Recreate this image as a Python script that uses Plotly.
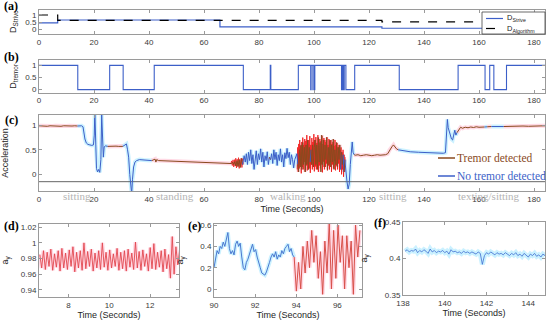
import numpy as np
import plotly.graph_objects as go

W, H = 550, 327

# ---------------- (a) ----------------
strive_t = [0, 6.8, 65.8, 124.7, 184]
strive_v = [0.45, 0.65, 0.17, 0.08, 0.08]
algo_t = [0, 6.8, 124.7, 184]
algo_v = [1.0, 0.63, 0.52, 0.52]

# ---------------- (b) ----------------
tremor_t = [0, 14.1, 25.7, 30.6, 41.9, 74.3, 84.1, 84.3, 94.3, 98.8, 98.95, 99.6, 99.7,
            100.2, 100.3, 110.0, 110.2, 110.4, 110.6, 110.8, 111.0, 111.6, 114.8, 131.0,
            152.4, 162.2, 163.9, 165.4, 170.0, 184]
tremor_v = [1, 0, 1, 0, 1, 0, 1, 0, 1, 0, 1, 0, 1,
            0, 1, 0, 1, 0, 1, 0, 1, 0, 1, 0,
            1, 0, 1, 0, 1, 1]

# ---------------- (c) ----------------
accel_t = [0, 1, 2, 3, 4, 5, 6, 7, 8, 9, 10, 11, 12, 13, 14,
           14.5, 15, 15.5, 16, 16.3, 16.7, 17.2, 17.8, 18.5, 19.2, 19.8, 20.1, 20.3, 20.6, 20.9,
           21.3, 21.7, 22.1, 22.5, 22.8, 23.1, 23.4, 23.7, 24.2, 25,
           26, 27, 28, 29, 30, 30.5,
           31.2, 31.8, 32.2, 32.6, 33.0, 33.4, 33.7, 34.0, 34.4, 34.9, 35.5, 36.5, 38, 39.5, 41,
           42.2, 42.5, 42.8, 43.5, 46, 50, 54, 58, 62, 66, 69,
           70, 70.4, 70.8, 71.2, 71.6, 72, 72.4, 72.8, 73.2, 73.6, 74.0,
           74.6, 75.0, 75.4, 75.8, 76.2, 76.6, 77.0, 77.4, 77.8, 78.2, 78.6, 79.0, 79.4, 79.8,
           80.2, 80.6, 81.0, 81.4, 81.8, 82.2, 82.6, 83.0, 83.4, 83.8, 84.2, 84.6, 85.0, 85.4,
           85.8, 86.2, 86.6, 87.0, 87.4, 87.8, 88.2, 88.6, 89.0, 89.4, 89.8, 90.2, 90.6, 91.0,
           91.4, 91.8, 92.2, 92.6, 93.0, 93.4, 93.8, 94.1,
           94.4, 94.7, 95.0, 95.3, 95.6, 95.9, 96.2, 96.5, 96.8, 97.1, 97.4, 97.7, 98.0, 98.3,
           98.6, 98.9, 99.2, 99.5, 99.8, 100.1, 100.4, 100.7, 101.0, 101.3, 101.6, 101.9,
           102.2, 102.5, 102.8, 103.1, 103.4, 103.7, 104.0, 104.3, 104.6, 104.9, 105.2, 105.5,
           105.8, 106.1, 106.4, 106.7, 107.0, 107.3, 107.6, 107.9, 108.2, 108.5, 108.8, 109.1,
           109.4, 109.7, 110.0, 110.3, 110.6, 110.9, 111.2,
           111.6, 112.0, 112.4, 112.8, 113.2, 113.6, 113.9, 114.2, 114.6,
           115, 116, 117, 118, 119, 120, 121, 122, 123, 124, 125, 126, 126.8, 127.5, 128.3,
           128.9, 129.4, 130, 130.6,
           131.5, 133, 135, 138, 141, 144, 147, 147.8, 148.2, 148.5, 148.8, 149.2, 149.6,
           150.0, 150.4, 150.8, 151.2, 151.6, 152.0,
           152.8, 153.3, 154, 155, 156, 157, 158, 159, 160, 161, 162, 163, 164.5, 166, 167,
           168, 169, 171, 172, 174, 176, 178, 180, 182, 184]
accel_a = [0.99, 0.985, 0.99, 0.98, 0.99, 0.985, 0.99, 0.985, 0.98, 0.99, 0.985, 0.99, 0.985, 0.99, 0.985,
           0.99, 0.985, 0.99, 0.97, 0.85, 0.72, 0.64, 0.61, 0.6, 0.59, 0.6, 0.8, 1.3, 0.6, 0.12,
           0.05, 0.1, 0.04, 0.3, 1.22, 0.7, 0.35, 0.56, 0.58, 0.57,
           0.575, 0.57, 0.575, 0.57, 0.58, 0.57,
           0.6, 0.62, 0.5, 0.35, 0.0, -0.35, -0.4, -0.1, 0.15, 0.25, 0.28, 0.3, 0.29, 0.28, 0.28,
           0.31, 0.25, 0.3, 0.28, 0.275, 0.27, 0.265, 0.255, 0.245, 0.235, 0.23,
           0.22, 0.25, 0.2, 0.26, 0.17, 0.28, 0.16, 0.3, 0.14, 0.32, 0.2,
           0.38, 0.25, 0.42, 0.2, 0.45, 0.28, 0.5, 0.22, 0.4, 0.1, 0.35, 0.48, 0.2, 0.42,
           0.3, 0.52, 0.25, 0.45, 0.15, 0.38, 0.28, 0.46, 0.2, 0.35, 0.3, 0.42, 0.22, 0.5,
           0.3, 0.45, 0.18, 0.4, 0.28, 0.52, 0.25, 0.4, 0.15, 0.44, 0.32, 0.53, 0.34, 0.45,
           0.2, 0.4, 0.3, 0.13, 0.3, 0.35, 0.42, 0.2,
           0.05, 0.5, 0.15, 0.6, 0.1, 0.65, 0.2, 0.55, 0.05, 0.6, 0.2, 0.7, 0.1, 0.55,
           0.25, 0.5, 0.2, 0.6, 0.15, 0.55, 0.7, 0.2, 0.6, 0.1, 0.75, 0.25,
           0.65, 0.05, 0.8, 0.2, 0.7, 0.15, 0.6, 0.3, 0.75, 0.1, 0.55, 0.2,
           0.7, 0.15, 0.6, 0.25, 0.72, 0.1, 0.5, 0.2, 0.65, 0.15, 0.55, 0.3,
           0.6, 0.1, 0.45, 0.2, 0.4, 0.05, 0.3,
           0.0, -0.15, -0.3, -0.2, 0.2, 0.6, 0.66, 0.45, 0.4,
           0.39, 0.4, 0.38, 0.39, 0.4, 0.39, 0.38, 0.39, 0.4, 0.39, 0.39, 0.4, 0.42, 0.5, 0.56,
           0.6, 0.55, 0.52, 0.5,
           0.49, 0.47, 0.46, 0.45, 0.44, 0.435, 0.43, 0.44, 0.8, 1.12, 0.95, 0.85, 0.78,
           0.72, 0.7, 0.85, 0.9, 0.8, 0.85,
           0.93, 0.96, 0.94, 0.96, 0.95, 0.965, 0.955, 0.97, 0.96, 0.97, 0.965, 0.97, 0.975, 0.97, 0.975,
           0.97, 0.975, 0.98, 0.975, 0.98, 0.985, 0.98, 0.985, 0.99, 0.99]

# raw (unfiltered) signal while walking with tremor
raw_a = [0.1, 0.55, 0.05, 0.62, 0.12, 0.7, 0.2, 0.58, 0.02, 0.66, 0.15, 0.75, 0.1, 0.6, 0.25, 0.72,
         0.05, 0.68, 0.18, 0.8, 0.08, 0.62, 0.22, 0.7, 0.12, 0.78, 0.03, 0.6, 0.2, 0.74, 0.1, 0.66,
         0.28, 0.82, 0.06, 0.7, 0.16, 0.76, 0.1, 0.64, 0.24, 0.8, 0.05, 0.58, 0.18, 0.72, 0.12, 0.68,
         0.2, 0.78, 0.04, 0.62, 0.26, 0.74, 0.1, 0.7, 0.15, 0.66, 0.22, 0.76, 0.08, 0.6, 0.18, 0.72,
         0.1, 0.68, 0.25, 0.7, 0.05, 0.62, 0.2, 0.66, 0.12, 0.58, 0.28, 0.7, 0.08, 0.6, 0.18, 0.64,
         0.1, 0.55, 0.22, 0.6, 0.05, 0.5, 0.15, 0.55, 0.0, 0.45, 0.1, 0.5, -0.05, 0.4, 0.05, 0.35]
raw_start, raw_end = 93.9, 111.3
raw2_a = [0.22, 0.27, 0.18, 0.29, 0.15, 0.3, 0.17, 0.33, 0.13, 0.31, 0.16, 0.34, 0.12, 0.3, 0.18, 0.33,
          0.14, 0.32, 0.2]
raw2_start, raw2_end = 69.8, 74.3
base_t = [0, 184]
base_a = [-0.15, -0.15]

activity_labels = ["sitting", "standing", "walking", "sitting", "texting/sitting"]
activity_x = [13.7, 49.5, 90.5, 128.6, 163.6]

# ---------------- (d) ----------------
d_a = [0.985, 0.968, 0.99, 0.966, 0.988, 0.97, 0.992, 0.965, 0.986, 0.969, 0.99, 0.964, 0.993,
       0.968, 0.987, 0.966, 0.991, 0.97, 0.995, 0.963, 0.988, 0.968, 0.99, 0.965, 1.0, 0.967,
       0.989, 0.97, 0.992, 0.964, 0.987, 0.968, 0.99, 0.966, 1.0, 0.969, 0.988, 0.965, 0.991,
       0.968, 0.986, 0.97, 0.993, 0.965, 0.988, 0.967, 0.99, 0.964, 0.992, 0.969, 0.987, 0.966,
       1.001, 0.968, 0.989, 0.965, 0.991, 0.97, 0.986, 0.964, 0.994, 0.967, 0.999, 0.966, 0.988,
       0.969, 0.99, 0.963, 0.992, 0.967, 0.985, 0.955, 1.008, 0.96, 0.995, 0.972, 0.99]
d_start, d_end = 6.6, 13.45

# ---------------- (e) ----------------
e_blue_a = [0.2, 0.28, 0.36, 0.33, 0.4, 0.38, 0.44, 0.4, 0.47, 0.53, 0.38, 0.33, 0.36, 0.32,
            0.42, 0.45, 0.4, 0.43, 0.3, 0.2, 0.18, 0.25, 0.28, 0.32, 0.38, 0.42, 0.35, 0.37,
            0.3, 0.26, 0.2, 0.15, 0.14, 0.13, 0.16, 0.22, 0.25, 0.3, 0.33, 0.3, 0.35, 0.28,
            0.32, 0.3, 0.36, 0.33, 0.38, 0.4, 0.42, 0.35, 0.38, 0.32, 0.3]
e_blue_start, e_blue_end = 90.0, 93.9
e_red_a = [0.3, -0.02, 0.25, 0.0, 0.4, 0.15, 0.45, 0.2, 0.55, 0.25, 0.5, 0.1, 0.35, -0.05, 0.45,
           0.15, 0.62, 0.0, 0.55, 0.1, 0.6, 0.25, 0.5, 0.0, 0.5, 0.2, 0.45, -0.05, 0.6, 0.3, 0.55]
e_red_start, e_red_end = 93.9, 97.1

# ---------------- (f) ----------------
f_a = [0.41, 0.412, 0.409, 0.411, 0.41, 0.413, 0.408, 0.411, 0.409, 0.412, 0.41, 0.407, 0.413,
       0.409, 0.411, 0.408, 0.41, 0.409, 0.411, 0.408, 0.41, 0.406, 0.412, 0.409, 0.41, 0.408,
       0.409, 0.407, 0.41, 0.408, 0.409, 0.407, 0.409, 0.408, 0.406, 0.409, 0.407, 0.392, 0.404,
       0.408, 0.406, 0.409, 0.407, 0.405, 0.408, 0.406, 0.407, 0.405, 0.408, 0.406, 0.404, 0.407,
       0.405, 0.408, 0.404, 0.406, 0.403, 0.407, 0.405, 0.402, 0.406, 0.404, 0.407, 0.403, 0.405,
       0.402, 0.406, 0.404]
f_start, f_end = 138.1, 144.8

# ---------------- styling ----------------
BLUE = "#3C5FC8"
BROWN = "#8A4A1E"
RED = "#F01E1E"
PINK_HALO = "rgba(255,170,195,0.45)"
CYAN_HALO = "rgba(140,225,255,0.45)"
AXC = "#9a9a9a"
TXT = "#3a3a3a"
SANS = "Liberation Sans, Arial, sans-serif"
SERIF = "Liberation Serif, Times New Roman, serif"


def xdom(px0, px1):
    return [px0 / W, px1 / W]


def ydom(py_top, py_bot):
    return [1 - py_bot / H, 1 - py_top / H]


def px(x):
    return x / W


def py(y):
    return 1 - y / H


fig = go.Figure()

# (a)
fig.add_trace(go.Scatter(x=strive_t, y=strive_v, mode="lines", line=dict(color=BLUE, width=1.2, shape="hv"),
                         name="D_Strive", showlegend=False, xaxis="x", yaxis="y"))
fig.add_trace(go.Scatter(x=algo_t, y=algo_v, mode="lines", line=dict(color="black", width=1.2, dash="dash", shape="hv"),
                         name="D_Algorithm", showlegend=False, xaxis="x", yaxis="y"))

# (b)
fig.add_trace(go.Scatter(x=tremor_t, y=tremor_v, mode="lines", line=dict(color=BLUE, width=1.1, shape="hv"),
                         showlegend=False, xaxis="x2", yaxis="y2"))

# (c) segments coloured by tremor state
t_arr = np.array(accel_t)
a_arr = np.array(accel_a)
idx = np.searchsorted(np.array(tremor_t), t_arr, side="right") - 1
states = np.array(tremor_v)[np.clip(idx, 0, None)]
runs = []
start = 0
for i in range(1, len(t_arr) + 1):
    if i == len(t_arr) or states[i] != states[start]:
        s0 = max(start - 1, 0)
        runs.append((s0, i, states[start]))
        start = i

for s0, s1, st in runs:
    fig.add_trace(go.Scatter(x=t_arr[s0:s1], y=a_arr[s0:s1], mode="lines",
                             line=dict(color=PINK_HALO if st == 1 else CYAN_HALO, width=4),
                             showlegend=False, hoverinfo="skip", xaxis="x3", yaxis="y3"))
fig.add_trace(go.Scatter(x=np.linspace(raw2_start, raw2_end, len(raw2_a)), y=raw2_a, mode="lines",
                         line=dict(color=RED, width=0.8), showlegend=False, xaxis="x3", yaxis="y3"))
fig.add_trace(go.Scatter(x=np.linspace(raw_start, raw_end, len(raw_a)), y=raw_a, mode="lines",
                         line=dict(color=RED, width=0.9), showlegend=False, xaxis="x3", yaxis="y3"))
fig.add_trace(go.Scatter(x=base_t, y=base_a, mode="lines", line=dict(color="#555555", width=0.9),
                         showlegend=False, xaxis="x3", yaxis="y3"))
for s0, s1, st in runs:
    col = BROWN if st == 1 else BLUE
    fig.add_trace(go.Scatter(x=t_arr[s0:s1], y=a_arr[s0:s1], mode="lines",
                             line=dict(color=col, width=1.0),
                             name="Tremor detected" if st == 1 else "No tremor detected",
                             showlegend=False, xaxis="x3", yaxis="y3"))

# (d)
d_t = np.linspace(d_start, d_end, len(d_a))
fig.add_trace(go.Scatter(x=d_t, y=d_a, mode="lines", line=dict(color=PINK_HALO, width=4),
                         showlegend=False, hoverinfo="skip", xaxis="x4", yaxis="y4"))
fig.add_trace(go.Scatter(x=d_t, y=d_a, mode="lines", line=dict(color="#E2474F", width=0.9),
                         showlegend=False, xaxis="x4", yaxis="y4"))

# (e)
eb_t = np.linspace(e_blue_start, e_blue_end, len(e_blue_a))
er_t = np.linspace(e_red_start, e_red_end, len(e_red_a))
fig.add_trace(go.Scatter(x=eb_t, y=e_blue_a, mode="lines", line=dict(color=CYAN_HALO, width=4),
                         showlegend=False, hoverinfo="skip", xaxis="x5", yaxis="y5"))
fig.add_trace(go.Scatter(x=er_t, y=e_red_a, mode="lines", line=dict(color=PINK_HALO, width=4),
                         showlegend=False, hoverinfo="skip", xaxis="x5", yaxis="y5"))
fig.add_trace(go.Scatter(x=eb_t, y=e_blue_a, mode="lines", line=dict(color="#4A78D0", width=1.0),
                         showlegend=False, xaxis="x5", yaxis="y5"))
fig.add_trace(go.Scatter(x=er_t, y=e_red_a, mode="lines", line=dict(color="#D8504A", width=1.0),
                         showlegend=False, xaxis="x5", yaxis="y5"))

# (f)
f_t = np.linspace(f_start, f_end, len(f_a))
fig.add_trace(go.Scatter(x=f_t, y=f_a, mode="lines", line=dict(color=CYAN_HALO, width=5),
                         showlegend=False, hoverinfo="skip", xaxis="x6", yaxis="y6"))
fig.add_trace(go.Scatter(x=f_t, y=f_a, mode="lines", line=dict(color="#3F6FD0", width=0.8),
                         showlegend=False, xaxis="x6", yaxis="y6"))


def ax(domain, rng, dtick=None, tickvals=None, ticktext=None, title=None, anchor=None, standoff=None):
    d = dict(domain=domain, range=rng, showline=True, linecolor=AXC, linewidth=1, mirror="ticks",
             ticks="inside", ticklen=3, tickcolor=AXC, showgrid=False, zeroline=False,
             automargin=False, tickfont=dict(family=SANS, size=8, color=TXT), anchor=anchor)
    if dtick is not None:
        d["dtick"] = dtick
        d["tick0"] = 0
    if tickvals is not None:
        d["tickvals"] = tickvals
        d["ticktext"] = ticktext if ticktext is not None else [str(v) for v in tickvals]
    if title is not None:
        d["title"] = dict(text=title, font=dict(family=SANS, size=9, color="#262626"))
        if standoff is not None:
            d["title"]["standoff"] = standoff
    return d


xa = xdom(39, 545)
layout = dict(
    width=W, height=H, autosize=False, margin=dict(l=0, r=0, t=0, b=0, autoexpand=False),
    paper_bgcolor="white", plot_bgcolor="white", showlegend=False,
    xaxis=ax(xa, [0, 184], dtick=20, anchor="y"),
    yaxis=ax(ydom(9.5, 34), [-0.32, 1.38], tickvals=[0, 0.5, 1], ticktext=["0", "0.5", "1"],
             title="D<sub>Strive</sub>", anchor="x", standoff=7),
    xaxis2=ax(xa, [0, 184], dtick=20, anchor="y2"),
    yaxis2=ax(ydom(60.3, 92.5), [-0.12, 1.21], tickvals=[0, 0.5, 1], ticktext=["0", "0.5", "1"],
              title="D<sub>tremor</sub>", anchor="x2", standoff=7),
    xaxis3=ax(xa, [0, 184], dtick=20, title="Time (Seconds)", anchor="y3", standoff=0),
    yaxis3=ax(ydom(115, 191), [-0.34, 1.21], tickvals=[0, 0.5, 1], ticktext=["0", "0.5", "1"],
              title="Acceleration", anchor="x3"),
    xaxis4=ax(xdom(39, 179), [6.56, 13.42], tickvals=[8, 10, 12], title="Time (Seconds)", anchor="y4", standoff=2),
    yaxis4=ax(ydom(224, 297), [0.931, 1.024], tickvals=[0.94, 0.96, 0.98, 1, 1.02],
              ticktext=["0.94", "0.96", "0.98", "1", "1.02"], title="a<sub>y</sub>", anchor="x4"),
    xaxis5=ax(xdom(214, 362), [90, 97.2], tickvals=[90, 92, 94, 96], title="Time (Seconds)", anchor="y5", standoff=2),
    yaxis5=ax(ydom(224, 297), [-0.075, 0.61], tickvals=[0, 0.2, 0.4, 0.6], title="a<sub>y</sub>", anchor="x5"),
    xaxis6=ax(xdom(403, 545), [138, 144.8], tickvals=[138, 140, 142, 144], title="Time (Seconds)", anchor="y6", standoff=0),
    yaxis6=ax(ydom(222, 295), [0.35, 0.45], tickvals=[0.35, 0.4, 0.45], title="a<sub>y</sub>", anchor="x6"),
)
fig.update_layout(**layout)

# ---- legend of panel (a) ----
fig.add_shape(type="rect", xref="paper", yref="paper", x0=px(482), x1=px(545), y0=py(34), y1=py(12),
              line=dict(color="#444", width=0.8), fillcolor="white", layer="above")
fig.add_shape(type="line", xref="paper", yref="paper", x0=px(486), x1=px(503), y0=py(18.5), y1=py(18.5),
              line=dict(color=BLUE, width=1.2), layer="above")
fig.add_shape(type="line", xref="paper", yref="paper", x0=px(486), x1=px(503), y0=py(28.5), y1=py(28.5),
              line=dict(color="black", width=1.2, dash="dash"), layer="above")
fig.add_annotation(text="D<sub>Strive</sub>", x=px(505), y=py(18.5), xref="paper", yref="paper",
                   xanchor="left", yanchor="middle", showarrow=False, font=dict(family=SANS, size=7.5, color="#222"))
fig.add_annotation(text="D<sub>Algorithm</sub>", x=px(505), y=py(28.5), xref="paper", yref="paper",
                   xanchor="left", yanchor="middle", showarrow=False, font=dict(family=SANS, size=7.5, color="#222"))

# ---- legend of panel (c) ----
fig.add_shape(type="line", xref="paper", yref="paper", x0=px(438), x1=px(455), y0=py(158), y1=py(158),
              line=dict(color=BROWN, width=1.5), layer="above")
fig.add_shape(type="line", xref="paper", yref="paper", x0=px(438), x1=px(455), y0=py(176), y1=py(176),
              line=dict(color=BLUE, width=1.5), layer="above")
fig.add_annotation(text="Tremor detected", x=px(455), y=py(157.5), xref="paper", yref="paper",
                   xanchor="left", yanchor="middle", showarrow=False, font=dict(family=SERIF, size=11.5, color=BROWN))
fig.add_annotation(text="No tremor detected", x=px(455), y=py(175.5), xref="paper", yref="paper",
                   xanchor="left", yanchor="middle", showarrow=False, font=dict(family=SERIF, size=11.5, color=BLUE))

# panel labels
for lab, lx, ly in [("(a)", 2, 6), ("(b)", 2, 57), ("(c)", 3, 120), ("(d)", 2, 226), ("(e)", 186, 226), ("(f)", 372, 223)]:
    fig.add_annotation(text="<b>" + lab + "</b>", x=px(lx), y=py(ly), xref="paper", yref="paper",
                       xanchor="left", yanchor="middle", showarrow=False,
                       font=dict(family=SERIF, size=12, color="black"))

# activity labels (in data coordinates of panel c)
for lab, xv in zip(activity_labels, activity_x):
    fig.add_annotation(text=lab, x=xv, xref="x3", y=py(196), yref="paper", showarrow=False,
                       xanchor="center", yanchor="middle",
                       font=dict(family=SERIF, size=11, color="#b4b4b4"))

fig.write_html("out.html", config={"displayModeBar": False},
               post_script="document.body.style.margin='0px';document.body.style.padding='0px';")
